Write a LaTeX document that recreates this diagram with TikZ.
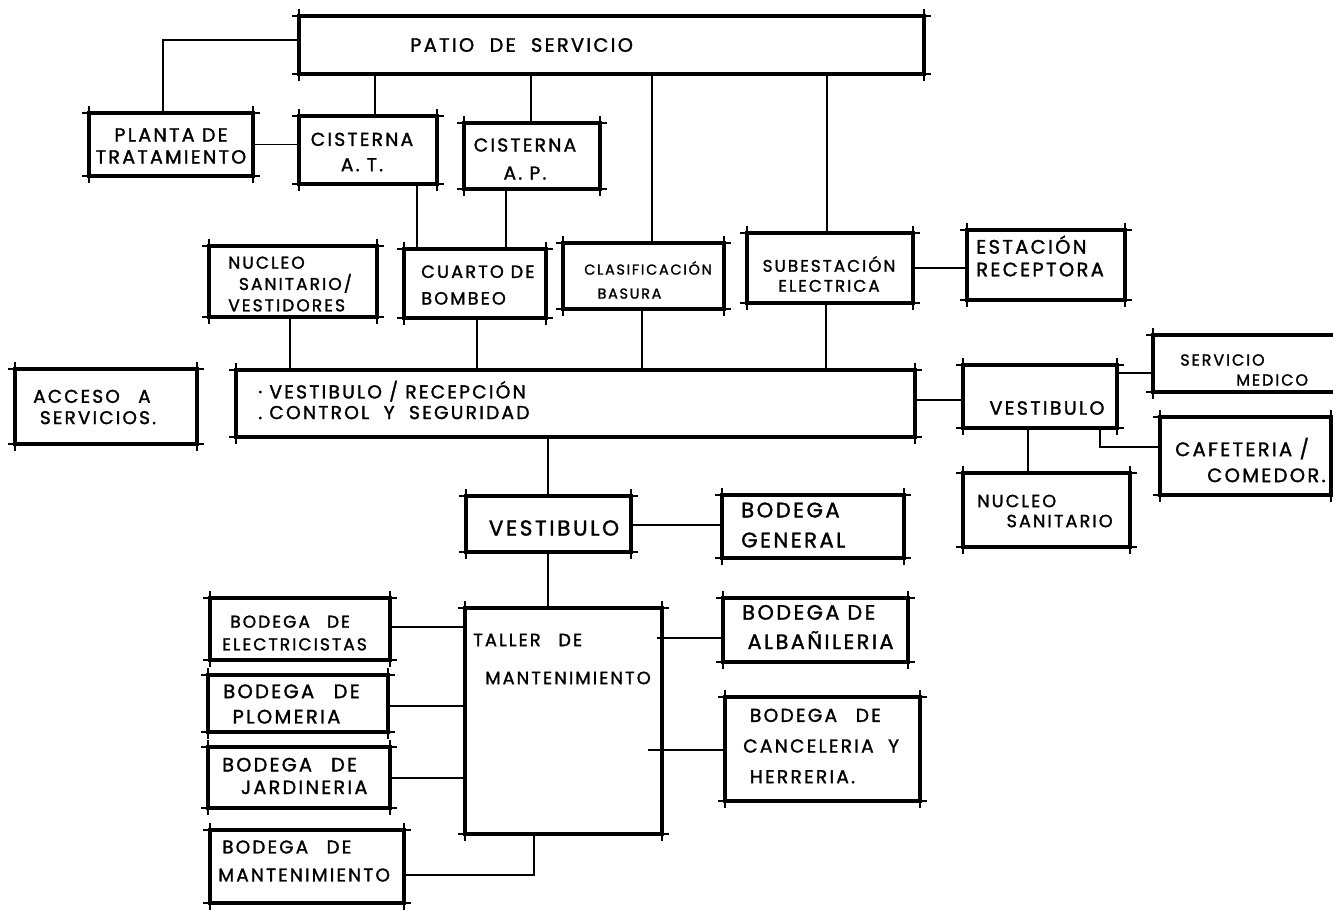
\documentclass[tikz,border=0pt]{standalone}
\usepackage{fontspec}
\newfontfamily\hand[LetterSpace=12,FakeBold=1.5]{Poppins}
\usetikzlibrary{fit}
\tikzset{
  bx/.style={draw=black, line width=2.4pt, inner sep=0pt, outer sep=0pt, fit={#1}},
  ov/.style={line width=1.1pt, black},
  con/.style={line width=1.3pt, black},
  lbl/.style 2 args={font=\hand\fontsize{#1}{#2}\selectfont, inner sep=0pt, align=left, anchor=west, text=black},
}
\begin{document}
\begin{tikzpicture}[x=0.75pt,y=-0.75pt]
\clip (0,0) rectangle (1333,911);
\fill[white] (0,0) rectangle (1333,911);

% ---------- boxes ----------
\node[bx={(299,16) (924,74)}] (patio) {};
\node[bx={(89,113) (253,176)}] (planta) {};
\node[bx={(299,116) (437,184)}] (cisat) {};
\node[bx={(464,123) (600,189)}] (cisap) {};
\node[bx={(209,246) (377,317)}] (nucleoA) {};
\node[bx={(404,249) (546,318)}] (bombeo) {};
\node[bx={(563,243) (724,309)}] (clasif) {};
\node[bx={(747,233) (913,303)}] (subest) {};
\node[bx={(967,230) (1125,300)}] (estacion) {};
\node[bx={(15,369) (197,444)}] (acceso) {};
\node[bx={(236,370) (915,437)}] (recep) {};
\node[bx={(963,365) (1117,428)}] (vestA) {};
\node[bx={(1153,335) (1350,392)}] (medico) {};
\node[bx={(1160,417) (1331,495)}] (cafe) {};
\node[bx={(963,473) (1130,547)}] (nucleoB) {};
\node[bx={(466,496) (631,552)}] (vestB) {};
\node[bx={(722,495) (904,558)}] (bgen) {};
\node[bx={(465,608) (662,834)}] (taller) {};
\node[bx={(210,598) (390,660)}] (belec) {};
\node[bx={(208,675) (388,732)}] (bplom) {};
\node[bx={(208,747) (390,808)}] (bjard) {};
\node[bx={(210,830) (404,903)}] (bmant) {};
\node[bx={(723,598) (908,662)}] (balb) {};
\node[bx={(725,697) (920,801)}] (bcanc) {};

% sketchy overshoot at the corners
\foreach \n in {patio,planta,cisat,cisap,nucleoA,bombeo,clasif,subest,estacion,acceso,recep,vestA,medico,cafe,nucleoB,vestB,bgen,taller,belec,bplom,bjard,bmant,balb,bcanc}{
  \draw[ov] ([xshift=-5pt]\n.north west) -- ([xshift=5pt]\n.north east);
  \draw[ov] ([xshift=-5pt]\n.south west) -- ([xshift=5pt]\n.south east);
  \draw[ov] ([yshift=5pt]\n.north west) -- ([yshift=-5pt]\n.south west);
  \draw[ov] ([yshift=5pt]\n.north east) -- ([yshift=-5pt]\n.south east);
}

% ---------- texts ----------
\node[lbl={14.5}{16pt}] (tpatio) at (410,45) {PATIO\hspace{0.8em}DE\hspace{0.8em}SERVICIO};
\node[lbl={14.3}{16.5pt}, align=center, anchor=center] (tplanta) at (171,146) {PLANTA DE\\TRATAMIENTO};
\node[lbl={14}{19pt}, align=center, anchor=center] (tcisat) at (362,152) {CISTERNA\\A.\ T.};
\node[lbl={14}{21pt}, align=center, anchor=center] (tcisap) at (525,159) {CISTERNA\\A.\ P.};
\node[lbl={12.8}{16pt}] (tnucleoA) at (228,284) {NUCLEO\\\hspace*{8pt}SANITARIO/\\VESTIDORES};
\node[lbl={13.3}{20pt}] (tbombeo) at (421,285) {CUARTO DE\\BOMBEO};
\node[lbl={10.8}{18pt}] (tclasif) at (584,280) {CLASIFICACIÓN\\\hspace*{10pt}BASURA};
\node[lbl={12.6}{15pt}, align=center, anchor=center] (tsubest) at (829,274) {SUBESTACIÓN\\ELECTRICA};
\node[lbl={14.6}{17pt}] (testacion) at (976,256) {ESTACIÓN\\RECEPTORA};
\node[lbl={13.8}{16pt}] (tacceso) at (33,407) {ACCESO\hspace{1em}A\\\hspace*{5pt}SERVICIOS.};
\node[lbl={14}{15.5pt}] (trecep) at (258,400) {·\ VESTIBULO / RECEPCIÓN\\.\ CONTROL\ \ Y\ \ SEGURIDAD};
\node[lbl={14.3}{16pt}, anchor=center] (tvestA) at (1047,408) {VESTIBULO};
\node[lbl={12}{15pt}] (tmedico) at (1180,370) {SERVICIO\\\hspace*{42pt}MEDICO};
\node[lbl={14.6}{19.5pt}] (tcafe) at (1175,460) {CAFETERIA /\\\hspace*{24pt}COMEDOR.};
\node[lbl={13.2}{15pt}] (tnucleoB) at (977,511) {NUCLEO\\\hspace*{22pt}SANITARIO};
\node[lbl={16.2}{16pt}, anchor=center] (tvestB) at (554,528) {VESTIBULO};
\node[lbl={15.8}{22.5pt}] (tbgen) at (741,525) {BODEGA\\GENERAL};
\node[lbl={12.8}{17pt}] (tbelec) at (222,633) {\hspace*{6pt}BODEGA\hspace{1em}DE\\ELECTRICISTAS};
\node[lbl={14.6}{19pt}] (tbplom) at (223,704) {BODEGA\hspace{1em}DE\\\hspace*{7pt}PLOMERIA};
\node[lbl={14.4}{17pt}] (tbjard) at (222,776) {BODEGA\hspace{1em}DE\\\hspace*{14pt}JARDINERIA};
\node[lbl={13.8}{21pt}] (tbmant) at (218,861) {\hspace*{3pt}BODEGA\hspace{1em}DE\\MANTENIMIENTO};
\node[lbl={15.6}{22pt}] (tbalb) at (742,627) {BODEGA DE\\\hspace*{4pt}ALBAÑILERIA};
\node[lbl={14}{23pt}] (tbcanc) at (743,746) {\hspace*{5pt}BODEGA\hspace{1em}DE\\CANCELERIA\ \ Y\\\hspace*{5pt}HERRERIA.};
\node[lbl={13.3}{28.5pt}] (ttaller) at (473,659) {TALLER\hspace{1em}DE\\\hspace*{9pt}MANTENIMIENTO};

% ---------- connectors ----------
\coordinate (k1) at (163,40);
\draw[con] (k1 -| patio.west) -- (k1) -- (k1 |- planta.north);
\draw[con] (planta.east) -- (planta.east -| cisat.west);
\coordinate (k3) at (375,0);
\draw[con] (k3 |- patio.south) -- (k3 |- cisat.north);
\coordinate (k4) at (531,0);
\draw[con] (k4 |- patio.south) -- (k4 |- cisap.north);
\coordinate (k5) at (652,0);
\draw[con] (k5 |- patio.south) -- (k5 |- clasif.north);
\coordinate (k6) at (827,0);
\draw[con] (k6 |- patio.south) -- (k6 |- subest.north);
\coordinate (k7) at (417,0);
\draw[con] (k7 |- cisat.south) -- (k7 |- bombeo.north);
\coordinate (k8) at (506,0);
\draw[con] (k8 |- cisap.south) -- (k8 |- bombeo.north);
\draw[con] (subest.east) -- (subest.east -| estacion.west);
\coordinate (k10) at (290,0);
\draw[con] (k10 |- nucleoA.south) -- (k10 |- recep.north);
\coordinate (k11) at (477,0);
\draw[con] (k11 |- bombeo.south) -- (k11 |- recep.north);
\coordinate (k12) at (642,0);
\draw[con] (k12 |- clasif.south) -- (k12 |- recep.north);
\coordinate (k13) at (826,0);
\draw[con] (k13 |- subest.south) -- (k13 |- recep.north);
\coordinate (k14) at (0,400);
\draw[con] (k14 -| recep.east) -- (k14 -| vestA.west);
\coordinate (k15) at (0,373);
\draw[con] (k15 -| vestA.east) -- (k15 -| medico.west);
\coordinate (k16) at (1100,447);
\draw[con] (k16 |- vestA.south) -- (k16) -- (k16 -| cafe.west);
\coordinate (k17) at (1028,0);
\draw[con] (k17 |- vestA.south) -- (k17 |- nucleoB.north);
\coordinate (k18) at (548,0);
\draw[con] (k18 |- recep.south) -- (k18 |- vestB.north);
\draw[con] (k18 |- vestB.south) -- (k18 |- taller.north);
\coordinate (k19) at (0,525);
\draw[con] (k19 -| vestB.east) -- (k19 -| bgen.west);
\coordinate (k21) at (0,627);
\draw[con] (k21 -| belec.east) -- (k21 -| taller.west);
\coordinate (k22) at (0,706);
\draw[con] (k22 -| bplom.east) -- (k22 -| taller.west);
\coordinate (k23) at (0,778);
\draw[con] (k23 -| bjard.east) -- (k23 -| taller.west);
\coordinate (k24) at (534,875);
\draw[con] (k24 -| bmant.east) -- (k24) -- (k24 |- taller.south);
\coordinate (k25) at (657,638);
\draw[con] (k25) -- (k25 -| balb.west);
\coordinate (k26) at (648,750);
\draw[con] (k26) -- (k26 -| bcanc.west);
\end{tikzpicture}
\end{document}
